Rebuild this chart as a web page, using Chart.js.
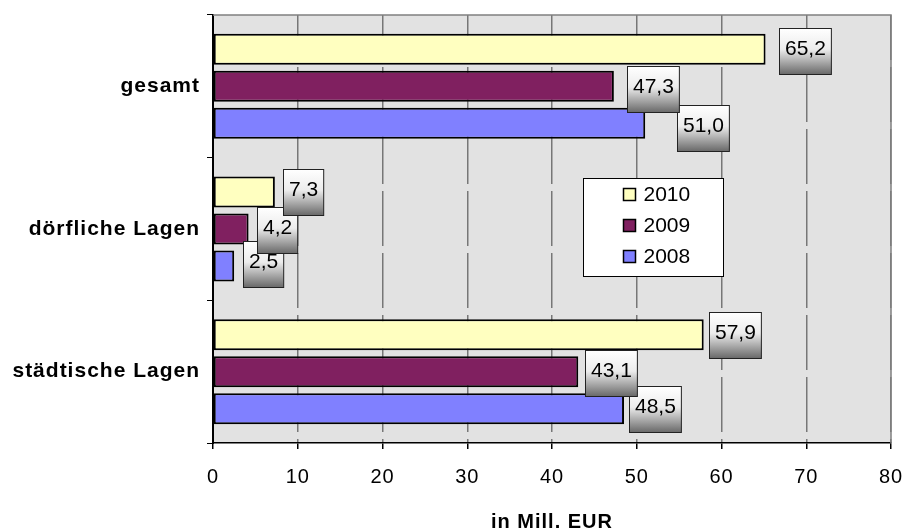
<!DOCTYPE html>
<html>
<head>
<meta charset="utf-8">
<script src="https://cdn.jsdelivr.net/npm/chart.js@4/dist/chart.umd.min.js"></script>
<style>
  body { margin: 0; background: #fff; }
  canvas { display: block; }
</style>
</head>
<body>
<canvas id="chart" width="905" height="531"></canvas>
<script>
// Umsatz nach Lage, 2008-2010 (in Mill. EUR)
const categories = ['gesamt', 'dörfliche Lagen', 'städtische Lagen'];
const years = ['2010', '2009', '2008'];
const values2010 = [65.2, 7.3, 57.9];
const values2009 = [47.3, 4.2, 43.1];
const values2008 = [51.0, 2.5, 48.5];

const barColors = ['#ffffc0', '#802060', '#8080ff'];
const FONT = '"Liberation Sans", Arial, sans-serif';

// label box shift from the bar end [dx, dy], per dataset and category
const labelShift = [
  [[13, 2], [8, 0], [5, 0]],
  [[13, 3], [8, 1], [7, 1]],
  [[32, 5], [9, -2], [5, 0]]
];

const fmt = v => v.toFixed(1).replace('.', ',');

// gray plot background plus the top/right frame
const plotFrame = {
  id: 'plotFrame',
  beforeDraw(chart) {
    const { ctx, chartArea: a } = chart;
    ctx.save();
    ctx.fillStyle = '#e2e2e2';
    ctx.fillRect(a.left, a.top, a.right - a.left, a.bottom - a.top);
    ctx.restore();
    ctx.letterSpacing = '1px';
  },
  beforeDatasetsDraw(chart) {
    const { ctx, chartArea: a } = chart;
    ctx.save();
    ctx.strokeStyle = '#808080';
    ctx.lineWidth = 1.5;
    ctx.beginPath();
    ctx.moveTo(a.left, a.top);
    ctx.lineTo(a.right, a.top);
    ctx.lineTo(a.right, a.bottom);
    ctx.stroke();
    ctx.restore();
  }
};

// value labels in shaded boxes next to each bar
const valueBoxes = {
  id: 'valueBoxes',
  afterDatasetsDraw(chart) {
    const ctx = chart.ctx;
    ctx.save();
    ctx.letterSpacing = '0px';
    ctx.font = '21px ' + FONT;
    ctx.textAlign = 'center';
    ctx.textBaseline = 'middle';
    for (let d = chart.data.datasets.length - 1; d >= 0; d--) {
      const meta = chart.getDatasetMeta(d);
      meta.data.forEach((bar, i) => {
        const text = fmt(chart.data.datasets[d].data[i]);
        const [dx, dy] = labelShift[d][i];
        const w = ctx.measureText(text).width + 11;
        const h = 46;
        const left = Math.round(bar.x + dx) + 0.5;
        const top = Math.round(bar.y + dy - h / 2) + 0.5;
        const g = ctx.createLinearGradient(0, top, 0, top + h);
        g.addColorStop(0, '#ffffff');
        g.addColorStop(0.45, '#ececec');
        g.addColorStop(1, '#686868');
        ctx.fillStyle = g;
        ctx.fillRect(left, top, w, h);
        ctx.strokeStyle = '#222';
        ctx.lineWidth = 1;
        ctx.strokeRect(left, top, w, h);
        ctx.fillStyle = '#000';
        ctx.fillText(text, left + w / 2, top + h / 2 - 2);
      });
    }
    ctx.restore();
  }
};

// legend box placed inside the plot
const boxLegend = {
  id: 'boxLegend',
  afterDraw(chart) {
    const ctx = chart.ctx;
    const x = 583.5, y = 178.5, w = 140, h = 98;
    ctx.save();
    ctx.letterSpacing = '0px';
    ctx.fillStyle = '#fff';
    ctx.fillRect(x, y, w, h);
    ctx.strokeStyle = '#000';
    ctx.lineWidth = 1;
    ctx.strokeRect(x, y, w, h);
    ctx.font = '21px ' + FONT;
    ctx.textBaseline = 'middle';
    chart.data.datasets.forEach((ds, i) => {
      const cy = y + 16 + i * 31;
      ctx.fillStyle = ds.backgroundColor;
      ctx.fillRect(x + 40, cy - 6, 12, 12);
      ctx.strokeStyle = '#000';
      ctx.lineWidth = 1.5;
      ctx.strokeRect(x + 40, cy - 6, 12, 12);
      ctx.fillStyle = '#000';
      ctx.fillText(ds.label, x + 60, cy + 1);
    });
    ctx.restore();
  }
};

const seriesValues = [values2010, values2009, values2008];

new Chart(document.getElementById('chart'), {
  type: 'bar',
  data: {
    labels: categories,
    datasets: years.map((yr, i) => ({
      label: yr,
      data: seriesValues[i],
      backgroundColor: barColors[i],
      borderColor: '#000',
      borderWidth: 2,
      borderSkipped: false,
      categoryPercentage: 0.778,
      barPercentage: 0.84
    }))
  },
  options: {
    indexAxis: 'y',
    responsive: false,
    devicePixelRatio: 1,
    animation: false,
    layout: { padding: { top: 15, right: 14, bottom: 0, left: 0 } },
    plugins: {
      legend: { display: false },
      tooltip: { enabled: false }
    },
    scales: {
      x: {
        min: 0,
        max: 80,
        afterFit: s => {
          s.height = 88;
          s.paddingLeft = 0;
          s.paddingRight = 0;
        },
        ticks: {
          stepSize: 10,
          color: '#000',
          padding: 16,
          font: { family: FONT, size: 20 }
        },
        grid: {
          color: '#777',
          lineWidth: 1.5,
          tickColor: '#000',
          tickLength: 6
        },
        border: { color: '#000', width: 1.5, dash: [55, 7], dashOffset: 10 },
        title: {
          display: true,
          text: 'in Mill. EUR',
          color: '#000',
          padding: { top: 0, bottom: 0 },
          font: { family: FONT, size: 20, weight: 'bold', lineHeight: 0.85 }
        }
      },
      y: {
        afterFit: s => {
          s.width = 213;
          s.paddingTop = 0;
          s.paddingBottom = 0;
        },
        ticks: {
          color: '#000',
          padding: 7,
          font: { family: FONT, size: 21, weight: 'bold' }
        },
        grid: {
          offset: true,
          drawOnChartArea: false,
          tickColor: '#000',
          tickLength: 6
        },
        border: { color: '#000', width: 2 }
      }
    }
  },
  plugins: [plotFrame, valueBoxes, boxLegend]
});
</script>
</body>
</html>
